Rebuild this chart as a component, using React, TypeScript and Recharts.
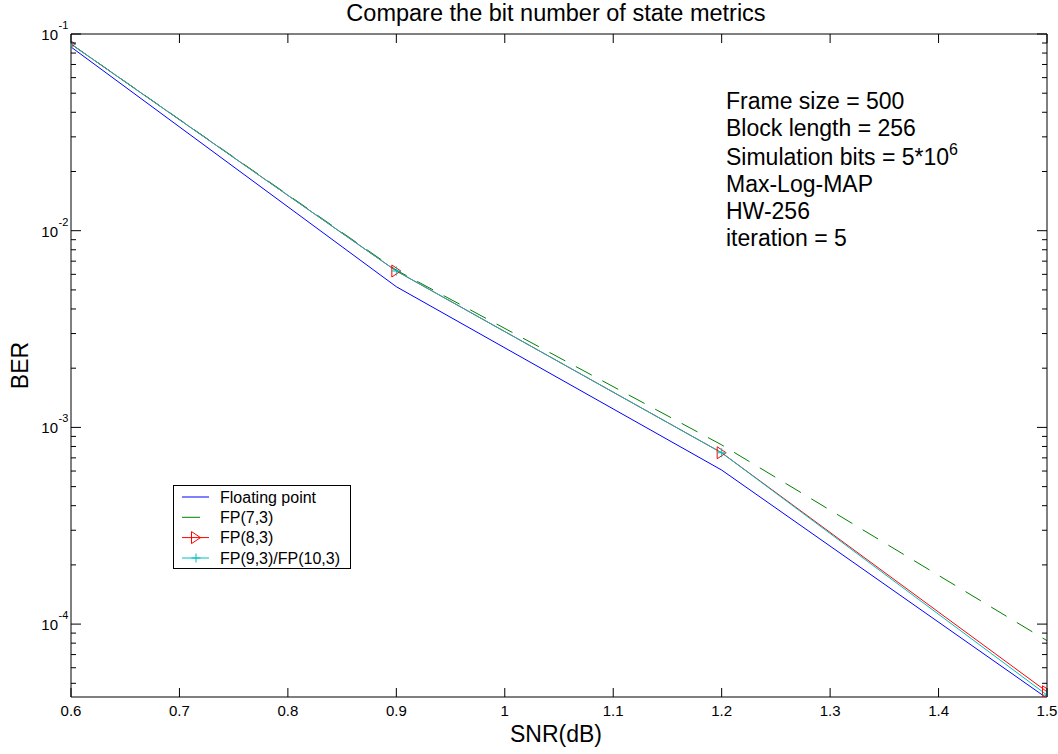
import React from 'react';
import { LineChart, Line, XAxis, YAxis, Legend } from 'recharts';

// ---------- data ----------
const snr = [0.6, 0.9, 1.2, 1.5];
const floatingPoint = [0.0859, 0.00519, 0.000607, 0.000042];
const fp73 = [0.0889, 0.0063, 0.000815, 0.0000824];
const fp83 = [0.0889, 0.00624, 0.000743, 0.0000453];
const fp93 = [0.0889, 0.00624, 0.000743, 0.0000436];

const seriesNames = ['Floating point', 'FP(7,3)', 'FP(8,3)', 'FP(9,3)/FP(10,3)'];
const seriesKeys = ['fp', 'fp73', 'fp83', 'fp93'];

const xTicks = [0.6, 0.7, 0.8, 0.9, 1.0, 1.1, 1.2, 1.3, 1.4, 1.5];
const yMajorTicks = [1e-4, 1e-3, 1e-2, 1e-1];
const yTickExponents = ['-4', '-3', '-2', '-1'];
const yMinorTicks = [
  5e-5, 6e-5, 7e-5, 8e-5, 9e-5,
  2e-4, 3e-4, 4e-4, 5e-4, 6e-4, 7e-4, 8e-4, 9e-4,
  2e-3, 3e-3, 4e-3, 5e-3, 6e-3, 7e-3, 8e-3, 9e-3,
  2e-2, 3e-2, 4e-2, 5e-2, 6e-2, 7e-2, 8e-2, 9e-2,
];
const yDomain = [4.26e-5, 0.1];

const titleText = 'Compare the bit number of state metrics';
const xLabelText = 'SNR(dB)';
const yLabelText = 'BER';
const annotationLines = [
  'Frame size = 500',
  'Block length = 256',
  'Simulation bits = 5*10',
  'Max-Log-MAP',
  'HW-256',
  'iteration = 5',
];
const annotationSup = '6';

// ---------- derived ----------
const data = snr.map((s, i) => ({
  snr: s,
  fp: floatingPoint[i],
  fp73: fp73[i],
  fp83: fp83[i],
  fp93: fp93[i],
}));
const allYTicks = [...yMajorTicks, ...yMinorTicks].sort((a, b) => a - b);

const FONT = '"Liberation Sans", Arial, Helvetica, sans-serif';
const W = 1058;
const H = 754;

const BLUE = '#0000FF';
const GREEN = '#008000';
const RED = '#FF0000';
const CYAN = '#00BFBF';
const DASH = '18 12';

const isMajor = (v: number) => yMajorTicks.some((m) => Math.abs(m - v) / m < 1e-6);
const expFor = (v: number) => {
  const i = yMajorTicks.findIndex((m) => Math.abs(m - v) / m < 1e-6);
  return i >= 0 ? yTickExponents[i] : '';
};

// ---------- ticks ----------
const XTickBottom = (props: any) => {
  const { x, y, payload } = props;
  return (
    <g>
      <line x1={x} y1={y} x2={x} y2={y - 9} stroke="#000" strokeWidth={1} />
      <text x={x} y={y + 19} textAnchor="middle" fontSize={15} fontFamily={FONT} fill="#000">
        {String(payload.value)}
      </text>
    </g>
  );
};

const XTickTop = (props: any) => {
  const { x, y } = props;
  return <line x1={x} y1={y} x2={x} y2={y + 9} stroke="#000" strokeWidth={1} />;
};

const YTickLeft = (props: any) => {
  const { x, y, payload } = props;
  const v = payload.value as number;
  const major = isMajor(v);
  return (
    <g>
      <line x1={x} y1={y} x2={x + (major ? 10 : 5)} y2={y} stroke="#000" strokeWidth={1} />
      {major && (
        <text x={x - 13} y={y + 6} textAnchor="end" fontSize={15} fontFamily={FONT} fill="#000">
          10
        </text>
      )}
      {major && (
        <text x={x - 12.5} y={y - 5} textAnchor="start" fontSize={11} fontFamily={FONT} fill="#000">
          {expFor(v)}
        </text>
      )}
    </g>
  );
};

const YTickRight = (props: any) => {
  const { x, y, payload } = props;
  const major = isMajor(payload.value as number);
  return <line x1={x} y1={y} x2={x - (major ? 10 : 5)} y2={y} stroke="#000" strokeWidth={1} />;
};

// ---------- markers ----------
const triPath = (cx: number, cy: number) =>
  `M${cx - 4.5},${cy - 6} L${cx + 4.5},${cy} L${cx - 4.5},${cy + 6} Z`;
const plusPath = (cx: number, cy: number) =>
  `M${cx - 4.5},${cy} L${cx + 4.5},${cy} M${cx},${cy - 4.5} L${cx},${cy + 4.5}`;

const TriangleDot = (props: any) => {
  const { cx, cy, index } = props;
  if (cx == null || cy == null) return <g key={`t-${index}`} />;
  return <path key={`t-${index}`} d={triPath(cx, cy)} fill="none" stroke={RED} strokeWidth={1} />;
};
const PlusDot = (props: any) => {
  const { cx, cy, index } = props;
  if (cx == null || cy == null) return <g key={`p-${index}`} />;
  return <path key={`p-${index}`} d={plusPath(cx, cy)} fill="none" stroke={CYAN} strokeWidth={1} />;
};

// ---------- legend ----------
const legendStyles = [
  { color: BLUE, dash: undefined as string | undefined, marker: 'none' },
  { color: GREEN, dash: DASH, marker: 'none' },
  { color: RED, dash: undefined, marker: 'tri' },
  { color: CYAN, dash: undefined, marker: 'plus' },
];

const LegendBox = () => {
  const rowY = [12, 32.3, 52.6, 73];
  return (
    <div
      style={{
        width: 178,
        height: 84,
        border: '1px solid #000',
        background: '#fff',
        boxSizing: 'border-box',
      }}
    >
      <svg width={176} height={82} style={{ display: 'block' }}>
        {seriesNames.map((name, i) => {
          const s = legendStyles[i];
          const cy = rowY[i] - 1;
          return (
            <g key={name}>
              <line x1={8} y1={cy} x2={35} y2={cy} stroke={s.color} strokeWidth={1} strokeDasharray={s.dash} />
              {s.marker === 'tri' && <path d={triPath(22, cy)} fill="none" stroke={RED} strokeWidth={1} />}
              {s.marker === 'plus' && <path d={plusPath(22, cy)} fill="none" stroke={CYAN} strokeWidth={1} />}
              <text x={46} y={cy + 5.5} fontSize={16} fontFamily={FONT} fill="#000">
                {name}
              </text>
            </g>
          );
        })}
      </svg>
    </div>
  );
};

// ---------- labels ----------
const XLabel = (props: any) => {
  const vb = props.viewBox || {};
  const cx = (vb.x ?? 71) + (vb.width ?? 976) / 2;
  const y = (vb.y ?? 697) + 45;
  return (
    <text x={cx - 3} y={y} textAnchor="middle" fontSize={23} fontFamily={FONT} fill="#000">
      {xLabelText}
    </text>
  );
};

const YLabel = (props: any) => {
  const vb = props.viewBox || {};
  const cy = (vb.y ?? 34) + (vb.height ?? 663) / 2;
  const x = 28;
  return (
    <text
      x={x}
      y={cy}
      textAnchor="middle"
      fontSize={23}
      fontFamily={FONT}
      fill="#000"
      transform={`rotate(-90, ${x}, ${cy})`}
    >
      {yLabelText}
    </text>
  );
};

const annotationBaselines = [109, 136, 165, 192, 219, 246];

export default function App() {
  return (
    <div style={{ position: 'absolute', left: 0, top: 0, width: W, height: H, background: '#fff' }}>
      <LineChart
        width={W}
        height={H}
        data={data}
        margin={{ top: 33, right: 10, bottom: 0, left: 0 }}
        style={{ fontFamily: FONT }}
      >
        <XAxis
          xAxisId="bottom"
          dataKey="snr"
          type="number"
          domain={[0.6, 1.5]}
          ticks={xTicks}
          interval={0}
          height={57}
          orientation="bottom"
          stroke="#000"
          tickLine={false}
          tickSize={0}
          tickMargin={0}
          tick={<XTickBottom />}
          label={<XLabel />}
          allowDataOverflow
        />
        <XAxis
          xAxisId="top"
          dataKey="snr"
          type="number"
          domain={[0.6, 1.5]}
          ticks={xTicks}
          interval={0}
          height={1}
          orientation="top"
          stroke="#000"
          tickLine={false}
          tickSize={0}
          tickMargin={0}
          tick={<XTickTop />}
          allowDataOverflow
        />
        <YAxis
          yAxisId="left"
          type="number"
          scale="log"
          domain={yDomain}
          ticks={allYTicks}
          interval={0}
          width={71}
          orientation="left"
          stroke="#000"
          tickLine={false}
          tickSize={0}
          tickMargin={0}
          tick={<YTickLeft />}
          label={<YLabel />}
          allowDataOverflow
        />
        <YAxis
          yAxisId="right"
          type="number"
          scale="log"
          domain={yDomain}
          ticks={allYTicks}
          interval={0}
          width={1}
          orientation="right"
          stroke="#000"
          tickLine={false}
          tickSize={0}
          tickMargin={0}
          tick={<YTickRight />}
          allowDataOverflow
        />
        <Legend
          layout="vertical"
          align="center"
          verticalAlign="middle"
          content={() => <LegendBox />}
          wrapperStyle={{ position: 'absolute', left: 173, top: 485, width: 178, height: 84 }}
        />
        <Line
          xAxisId="bottom"
          yAxisId="left"
          type="linear"
          dataKey={seriesKeys[0]}
          name={seriesNames[0]}
          stroke={BLUE}
          strokeWidth={1}
          dot={false}
          activeDot={false}
          isAnimationActive={false}
        />
        <Line
          xAxisId="bottom"
          yAxisId="left"
          type="linear"
          dataKey={seriesKeys[1]}
          name={seriesNames[1]}
          stroke={GREEN}
          strokeWidth={1}
          strokeDasharray={DASH}
          dot={false}
          activeDot={false}
          isAnimationActive={false}
        />
        <Line
          xAxisId="bottom"
          yAxisId="left"
          type="linear"
          dataKey={seriesKeys[2]}
          name={seriesNames[2]}
          stroke={RED}
          strokeWidth={1}
          dot={TriangleDot}
          activeDot={false}
          isAnimationActive={false}
        />
        <Line
          xAxisId="bottom"
          yAxisId="left"
          type="linear"
          dataKey={seriesKeys[3]}
          name={seriesNames[3]}
          stroke={CYAN}
          strokeWidth={1}
          dot={PlusDot}
          activeDot={false}
          isAnimationActive={false}
        />
      </LineChart>
      <svg
        width={W}
        height={H}
        style={{ position: 'absolute', left: 0, top: 0, pointerEvents: 'none' }}
      >
        <text x={556} y={21} textAnchor="middle" fontSize={23.5} fontFamily={FONT} fill="#000">
          {titleText}
        </text>
        {annotationLines.map((line, i) => (
          <text key={line} x={726} y={annotationBaselines[i]} fontSize={23} fontFamily={FONT} fill="#000">
            {line}
            {i === 2 && (
              <tspan fontSize={16} dy={-10}>
                {annotationSup}
              </tspan>
            )}
          </text>
        ))}
      </svg>
    </div>
  );
}
